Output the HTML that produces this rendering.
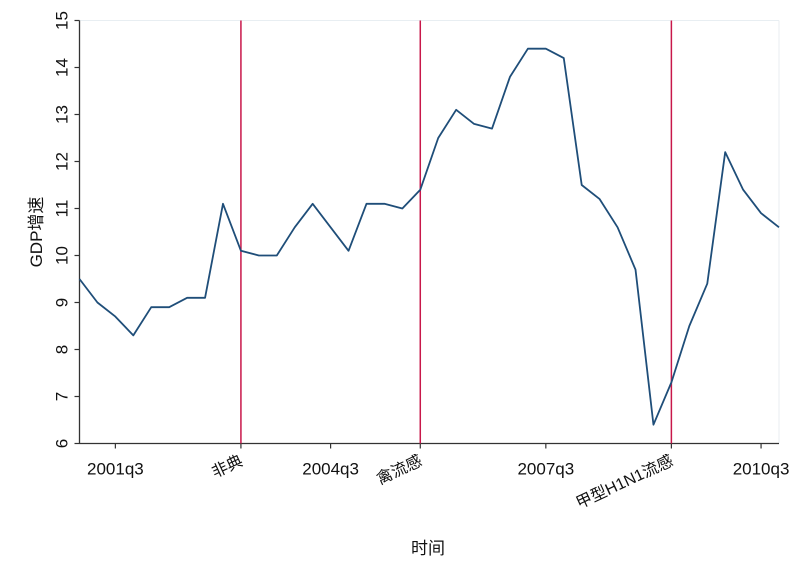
<!DOCTYPE html>
<html><head><meta charset="utf-8"><style>
body{margin:0;background:#fff;}
svg text{font-family:"Liberation Sans","Noto Sans CJK SC",sans-serif;fill:#111;}
</style></head><body>
<svg width="800" height="581" xmlns="http://www.w3.org/2000/svg">
<rect width="800" height="581" fill="#fff"/>
<g id="plot"></g>
</svg>
<script>
const quarters=[];for(let y=2001;y<=2010;y++)for(let q=1;q<=4;q++)quarters.push(y+'q'+q);
const gdp=[9.5,9.0,8.7,8.3,8.9,8.9,9.1,9.1,11.1,10.1,10.0,10.0,10.6,11.1,10.6,10.1,11.1,11.1,11.0,11.4,12.5,13.1,12.8,12.7,13.8,14.4,14.4,14.2,11.5,11.2,10.6,9.7,6.4,7.3,8.5,9.4,12.2,11.4,10.9,10.6];
const yTicks=[6,7,8,9,10,11,12,13,14,15];
const xTickLabels=['2001q3','2004q3','2007q3','2010q3'];
const eventQuarters=['2003q2','2005q4','2009q2'];
const eventLabels=['非典','禽流感','甲型H1N1流感'];
const L=79.5,R=779,T=20.5,B=443.5,yMin=6,yMax=15;
const xs=i=>L+i*(R-L)/(quarters.length-1);
const ys=v=>B-(v-yMin)/(yMax-yMin)*(B-T);
const NS='http://www.w3.org/2000/svg';
const g=document.getElementById('plot');
function mk(t,a){const e=document.createElementNS(NS,t);for(const k in a)e.setAttribute(k,a[k]);g.appendChild(e);return e;}
let e=mk('line',{x1:L,y1:T,x2:R,y2:T,stroke:'#e8eef2','stroke-width':1});


e=mk('line',{x1:R,y1:T,x2:R,y2:B,stroke:'#e8eef2','stroke-width':1});


e=mk('line',{x1:L,y1:T,x2:L,y2:B,stroke:'#333','stroke-width':1.3});


e=mk('line',{x1:L,y1:B,x2:R,y2:B,stroke:'#333','stroke-width':1.3});


yTicks.forEach(v=>{
 const y=ys(v);
 let t=mk('line',{x1:L-5,y1:y,x2:L,y2:y,stroke:'#333','stroke-width':1.2});
 
 
 let tx=mk('text',{x:0,y:0,'font-size':17,'text-anchor':'middle',transform:`translate(${L-12},${y}) rotate(-90)`});
 tx.textContent=v;
 
 
});
xTickLabels.forEach(lb=>{
 const x=xs(quarters.indexOf(lb));
 let t=mk('line',{x1:x,y1:B,x2:x,y2:B+5,stroke:'#333','stroke-width':1.2});
 
 
 let tx=mk('text',{x:x,y:B+31,'font-size':17,'text-anchor':'middle'});
 tx.textContent=lb;
 
 
});
eventQuarters.forEach((q,i)=>{
 const x=xs(quarters.indexOf(q));
 let l=mk('line',{x1:x,y1:T,x2:x,y2:B,stroke:'#c8174a','stroke-width':1.5});
 
 
 let t=mk('line',{x1:x,y1:B,x2:x,y2:B+5,stroke:'#333','stroke-width':1.2});
 
 
 let tx=mk('text',{x:0,y:0,'font-size':16,'text-anchor':'end',transform:`translate(${x+3},${B+21}) rotate(-25)`});
 tx.textContent=eventLabels[i];
 
 
});
const p=mk('polyline',{points:gdp.map((v,i)=>xs(i)+','+ys(v)).join(' '),fill:'none',stroke:'#1f4e79','stroke-width':1.8,'stroke-linejoin':'round'});


let yt=mk('text',{x:0,y:0,'font-size':17,'text-anchor':'middle',transform:'translate(42,232) rotate(-90)'});
yt.textContent='GDP增速';


let xt=mk('text',{x:428,y:554,'font-size':17,'text-anchor':'middle'});
xt.textContent='时间';


</script>
</body></html>
